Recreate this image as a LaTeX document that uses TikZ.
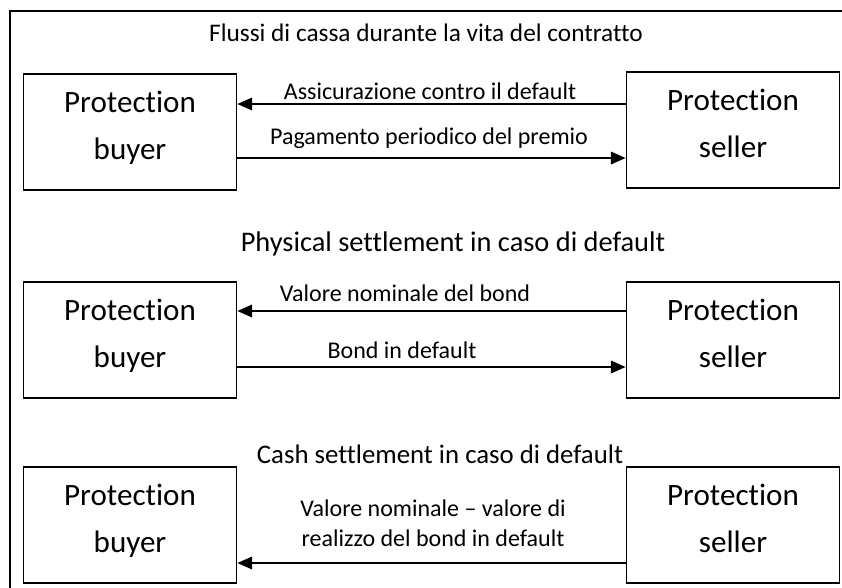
\documentclass[tikz,border=0pt]{standalone}
\usepackage{fontspec}
\setmainfont{Carlito}[Ligatures=NoCommon]
\usetikzlibrary{arrows.meta, positioning}

\begin{document}
\begin{tikzpicture}[
  x=0.75pt, y=-0.75pt,
  party/.style={rectangle, draw, line width=1.1pt, minimum width=160pt, minimum height=87pt, align=center, font=\fontsize{23.3}{35}\selectfont},
  heading/.style={font=\fontsize{19}{23}\selectfont},
  flow/.style={font=\fontsize{18}{22.5}\selectfont, align=center},
  arr/.style={-{Triangle[length=11pt, width=9.5pt]}, line width=0.9pt}
]
  \useasboundingbox (0,0) rectangle (842,587);
  % outer frame (cut off on the right and at the bottom)
  \draw[line width=0.9pt] (10,620) -- (10,11) -- (870,11);

  % Flussi di cassa
  \node[heading] (title1) at (426,33) {Flussi di cassa durante la vita del contratto};
  \node[party] (buyer1) at (130,132) {Protection\\buyer\strut};
  \node[party] (seller1) at (733,130) {Protection\\seller\strut};
  \draw[arr] (seller1.west |- 0,104) -- (buyer1.east |- 0,104);
  \draw[arr] (buyer1.east |- 0,158) -- (seller1.west |- 0,158);
  \node[flow] (insur) at (430,91) {Assicurazione contro il default};
  \node[flow] (premium) at (429,138) {Pagamento periodico del premio};

  % Physical settlement
  \node[heading, font=\fontsize{21.3}{25}\selectfont] (title2) at (453,244) {Physical settlement in caso di default};
  \node[party] (buyer2) at (130,340) {Protection\\buyer\strut};
  \node[party] (seller2) at (733,340) {Protection\\seller\strut};
  \draw[arr] (seller2.west |- 0,311) -- (buyer2.east |- 0,311);
  \draw[arr] (buyer2.east |- 0,367) -- (seller2.west |- 0,367);
  \node[flow] (nominal) at (405,293) {Valore nominale del bond};
  \node[flow] (bond) at (402,350) {Bond in default};

  % Cash settlement
  \node[heading, font=\fontsize{20.1}{24}\selectfont] (title3) at (440,454) {Cash settlement in caso di default};
  \node[party] (buyer3) at (130,525) {Protection\\buyer\strut};
  \node[party] (seller3) at (733,525) {Protection\\seller\strut};
  \draw[arr] (seller3.west |- 0,563) -- (buyer3.east |- 0,563);
  \node[flow] (cash) at (433,523) {Valore nominale -- valore di\\realizzo del bond in default};
\end{tikzpicture}
\end{document}
